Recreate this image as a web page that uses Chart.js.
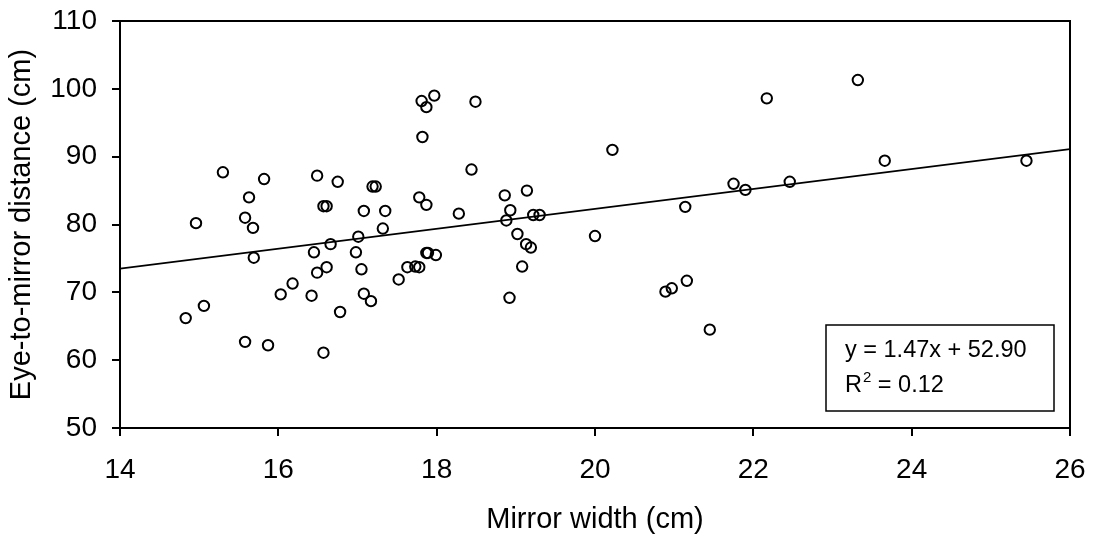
<!DOCTYPE html>
<html>
<head>
<meta charset="utf-8">
<script src="https://cdn.jsdelivr.net/npm/chart.js@4.4.1/dist/chart.umd.min.js"></script>
<style>
  html, body { margin: 0; padding: 0; background: #fff; }
  #wrap { width: 1094px; height: 541px; }
</style>
</head>
<body>
<div id="wrap"><canvas id="c" width="1094" height="541"></canvas></div>
<script>
// ---- Data ----
const mirrorWidth = [
  14.83, 14.96, 15.06, 15.30, 15.58, 15.58, 15.63, 15.68, 15.69, 15.82,
  15.87, 16.03, 16.18, 16.42, 16.45, 16.49, 16.49, 16.57, 16.57, 16.61,
  16.61, 16.66, 16.75, 16.78, 16.98, 17.01, 17.05, 17.08, 17.08, 17.17,
  17.19, 17.23, 17.32, 17.35, 17.52, 17.63, 17.73, 17.78, 17.78, 17.81,
  17.82, 17.87, 17.87, 17.87, 17.89, 17.97, 17.99, 18.28, 18.44, 18.49,
  18.86, 18.88, 18.92, 18.93, 19.02, 19.08, 19.13, 19.14, 19.19, 19.22,
  19.30, 20.00, 20.22, 20.89, 20.97, 21.14, 21.16, 21.45, 21.75, 21.90,
  22.17, 22.46, 23.32, 23.66, 25.45
];
const eyeDistance = [
  66.2, 80.2, 68.0, 87.7, 81.0, 62.7, 84.0, 79.5, 75.1, 86.7,
  62.2, 69.7, 71.3, 69.5, 75.9, 87.2, 72.9, 61.1, 82.7, 82.7,
  73.7, 77.1, 86.3, 67.1, 75.9, 78.2, 73.4, 82.0, 69.8, 68.7,
  85.6, 85.6, 79.4, 82.0, 71.9, 73.7, 73.8, 73.7, 84.0, 98.2,
  92.9, 97.3, 82.9, 75.8, 75.8, 99.0, 75.5, 81.6, 88.1, 98.1,
  84.3, 80.6, 69.2, 82.1, 78.6, 73.8, 77.1, 85.0, 76.6, 81.4,
  81.4, 78.3, 91.0, 70.1, 70.6, 82.6, 71.7, 64.5, 86.0, 85.1,
  98.6, 86.3, 101.3, 89.4, 89.4
];
const fitCoefficients = [1.47, 52.90];   // slope, intercept
const fitR2 = ["0.12"];
const xRange = [14, 26];
const yRange = [50, 110];
const xStep = [2];
const yStep = [10];
const xTitle = "Mirror width (cm)";
const yTitle = "Eye-to-mirror distance (cm)";

const FONT = "'Liberation Sans', Arial, Helvetica, sans-serif";

const points = mirrorWidth.map((x, i) => ({ x: x, y: eyeDistance[i] }));
const fitLine = xRange.map(x => ({ x: x, y: fitCoefficients[0] * x + fitCoefficients[1] }));

const framePlugin = {
  id: 'frame',
  afterDraw(chart) {
    const { ctx, chartArea: a } = chart;
    ctx.save();
    ctx.strokeStyle = '#000';
    ctx.lineWidth = 2;
    ctx.beginPath();
    ctx.moveTo(a.left, a.top);
    ctx.lineTo(a.right, a.top);
    ctx.lineTo(a.right, a.bottom);
    ctx.stroke();

    // equation box
    const bx = a.right - 244, by = a.bottom - 103, bw = 228, bh = 86;
    ctx.lineWidth = 1.5;
    ctx.fillStyle = '#fff';
    ctx.fillRect(bx, by, bw, bh);
    ctx.strokeRect(bx, by, bw, bh);
    ctx.fillStyle = '#000';
    ctx.textBaseline = 'alphabetic';
    ctx.textAlign = 'left';
    ctx.font = '23.5px ' + FONT;
    const tx = bx + 19;
    const s = fitCoefficients[0].toFixed(2) + 'x + ' + fitCoefficients[1].toFixed(2);
    ctx.fillText('y = ' + s, tx, by + 32);
    ctx.fillText('R', tx, by + 67);
    let w = ctx.measureText('R').width;
    ctx.font = '15px ' + FONT;
    ctx.fillText('2', tx + w + 1, by + 57);
    w += ctx.measureText('2').width + 1;
    ctx.font = '23.5px ' + FONT;
    ctx.fillText(' = ' + fitR2[0], tx + w, by + 67);
    ctx.restore();
  }
};

function zeroPad(scale) {
  scale.paddingTop = 0; scale.paddingBottom = 0;
  scale.paddingLeft = 0; scale.paddingRight = 0;
}

new Chart(document.getElementById('c'), {
  type: 'scatter',
  data: {
    datasets: [
      {
        type: 'line',
        data: fitLine,
        borderColor: '#000',
        borderWidth: 1.8,
        pointRadius: 0,
        fill: false,
        tension: 0
      },
      {
        data: points,
        pointStyle: 'circle',
        pointRadius: 5.2,
        pointBorderWidth: 2,
        borderColor: '#000',
        backgroundColor: 'rgba(255,255,255,0)',
        pointHoverRadius: 5.2
      }
    ]
  },
  plugins: [framePlugin],
  options: {
    responsive: false,
    devicePixelRatio: 1,
    animation: false,
    events: [],
    layout: { padding: { top: 21, right: 24, left: 0, bottom: 0 } },
    plugins: { legend: { display: false }, tooltip: { enabled: false } },
    scales: {
      x: {
        type: 'linear',
        min: xRange[0], max: xRange[1],
        ticks: { stepSize: xStep[0], color: '#000', padding: 17, font: { family: FONT, size: 28 } },
        grid: { display: true, drawOnChartArea: false, drawTicks: true, tickLength: 8, color: '#000', lineWidth: 2 },
        border: { display: true, color: '#000', width: 2 },
        title: { display: true, text: xTitle, color: '#000', font: { family: FONT, size: 29 }, padding: { top: 0, bottom: 4 } },
        afterFit(scale) { scale.height = 113; zeroPad(scale); }
      },
      y: {
        type: 'linear',
        min: yRange[0], max: yRange[1],
        ticks: { stepSize: yStep[0], color: '#000', padding: 15, font: { family: FONT, size: 28 } },
        grid: { display: true, drawOnChartArea: false, drawTicks: true, tickLength: 8, color: '#000', lineWidth: 2 },
        border: { display: true, color: '#000', width: 2 },
        title: { display: true, text: yTitle, color: '#000', font: { family: FONT, size: 29 }, padding: { top: 5, bottom: 0 } },
        afterFit(scale) { scale.width = 120; zeroPad(scale); }
      }
    }
  }
});
</script>
</body>
</html>
